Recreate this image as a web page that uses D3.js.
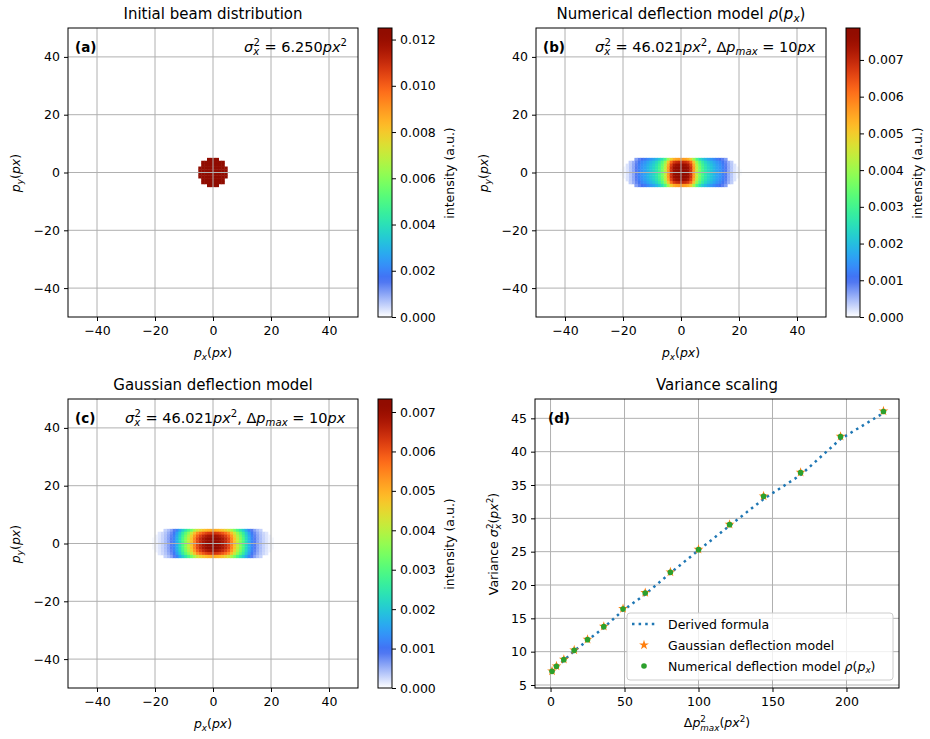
<!DOCTYPE html>
<html>
<head>
<meta charset="utf-8">
<script src="https://cdn.jsdelivr.net/npm/d3@7"></script>
<style>
  body { margin: 0; background: #fff; }
  text { font-family: "DejaVu Sans", sans-serif; fill: #000; white-space: pre; }
</style>
</head>
<body>
<svg id="fig" width="930" height="739"></svg>
<script>
// ---- data ----
// rows of the detector grid, top to bottom (cell centres, px)
var rowY = [4.5, 3.5, 2.5, 1.5, 0.5, -0.5, -1.5, -2.5, -3.5, -4.5];

// (a) initial beam: uniform disk, half width (cells) of every row
var diskHalfWidth = [2, 4, 4, 5, 5, 5, 5, 4, 4, 2];
var diskValue = 0.0125;

// |p_x| of cell centres used by the deflected profiles
var profileX = [0.5, 1.5, 2.5, 3.5, 4.5, 5.5, 6.5, 7.5, 8.5, 9.5, 10.5,
                11.5, 12.5, 13.5, 14.5, 15.5, 16.5, 17.5, 18.5, 19.5, 20.5];

// (b) numerical deflection model, centre-row intensity
var profileB = [0.00780, 0.00772, 0.00749, 0.00686, 0.00562, 0.00437, 0.00359,
                0.00304, 0.00265, 0.00234, 0.00211, 0.00187, 0.00164, 0.00148,
                0.00125, 0.00094, 0.00062, 0.00039, 0.00020, 0.00008, 0.00003];
var rowWeightB = [0.72, 0.9, 0.97, 1, 1, 1, 1, 0.97, 0.9, 0.72];
var rowReachB = [15.5, 17.5, 18.5, 19.5, 20.5, 20.5, 19.5, 18.5, 17.5, 15.5];

// (c) gaussian deflection model, centre-row intensity
var profileC = [0.00720, 0.00713, 0.00698, 0.00677, 0.00648, 0.00612, 0.00547,
                0.00475, 0.00410, 0.00353, 0.00295, 0.00230, 0.00173, 0.00122,
                0.00086, 0.00061, 0.00043, 0.00029, 0.00018, 0.00009, 0.00004];
var rowWeightC = [0.7, 0.88, 0.96, 1, 1, 1, 1, 0.96, 0.88, 0.7];
var rowReachC = [16.5, 18.5, 19.5, 20.5, 20.5, 20.5, 20.5, 19.5, 18.5, 16.5];

// colour bars
var cbarMaxA = 0.0125, cbarTicksA = [0, 0.002, 0.004, 0.006, 0.008, 0.010, 0.012];
var cbarMaxB = 0.00787, cbarTicksB = [0, 0.001, 0.002, 0.003, 0.004, 0.005, 0.006, 0.007];
var cbarMaxC = 0.00733, cbarTicksC = [0, 0.001, 0.002, 0.003, 0.004, 0.005, 0.006, 0.007];

var mapTicks = [-40, -20, 0, 20, 40];

// (d) variance scaling
var dpSq = [1, 4, 9, 16, 25, 36, 49, 64, 81, 100, 121, 144, 169, 196, 225];
var varFormula = [7.0, 7.7, 8.7, 10.1, 11.7, 13.6, 16.2, 18.6, 21.8, 25.2, 28.9, 32.9, 36.5, 41.9, 45.8];
var varGauss = [7.1, 7.85, 8.85, 10.25, 11.85, 13.8, 16.45, 18.85, 21.95, 25.35, 29.1, 33.35, 36.9, 42.3, 46.1];
var varNumeric = [7.05, 7.8, 8.8, 10.2, 11.8, 13.75, 16.4, 18.8, 21.9, 25.3, 29.05, 33.3, 36.85, 42.25, 46.02];
var dTicksX = [0, 50, 100, 150, 200];
var dTicksY = [5, 10, 15, 20, 25, 30, 35, 40, 45];

// ---- helpers ----
var svg = d3.select('#fig');
var FS = 12.5;
var ANN = 14.5;

// white below ~13% then turbo
function cmap(t) {
  t = Math.max(0, Math.min(1, t));
  if (t < 0.13) return d3.interpolateRgb('#ffffff', d3.interpolateTurbo(0.13))(t / 0.13);
  return d3.interpolateTurbo(t);
}

// mathtext-ish: parts = [text, style, dx]; style has i / sub / lsub / sup
function rich(sel, parts, fs) {
  var cur = 0;
  parts.forEach(function(p) {
    var st = p[1] || '', target = 0, size = fs;
    if (st.indexOf('sub') >= 0) { target = (st.indexOf('lsub') >= 0 ? 0.32 : 0.22) * fs; size = fs * 0.7; }
    if (st.indexOf('sup') >= 0) { target = -0.42 * fs; size = fs * 0.7; }
    var t = sel.append('tspan').text(p[0]).attr('font-size', size).attr('dy', target - cur);
    if (st.indexOf('i') >= 0) t.attr('font-style', 'italic');
    if (p[2]) t.attr('dx', p[2] * fs / FS);
    cur = target;
  });
  return sel;
}

function cellsDisk() {
  var out = [];
  rowY.forEach(function(y, i) {
    for (var k = -diskHalfWidth[i]; k < diskHalfWidth[i]; k++)
      out.push({x: k + 0.5, y: y, v: diskValue});
  });
  return out;
}

function cellsSpread(profile, weight, reach) {
  var out = [];
  rowY.forEach(function(y, i) {
    profileX.forEach(function(px, j) {
      if (px > reach[i]) return;
      var v = profile[j] * weight[i];
      out.push({x: px, y: y, v: v});
      out.push({x: -px, y: y, v: v});
    });
  });
  return out;
}

function gridAndFrame(g, x, y, xt, yt) {
  var gr = g.append('g').attr('class', 'grid');
  gr.selectAll('.gx').data(xt).join('line')
    .attr('x1', function(d) { return x(d); }).attr('x2', function(d) { return x(d); })
    .attr('y1', y.range()[0]).attr('y2', y.range()[1]);
  gr.selectAll('.gy').data(yt).join('line')
    .attr('y1', function(d) { return y(d); }).attr('y2', function(d) { return y(d); })
    .attr('x1', x.range()[0]).attr('x2', x.range()[1]);
  gr.selectAll('line').attr('stroke', '#b0b0b0').attr('stroke-width', 1);

  var ax = g.append('g').attr('transform', 'translate(0,' + y.range()[0] + ')')
    .call(d3.axisBottom(x).tickValues(xt).tickSize(4).tickPadding(5).tickSizeOuter(0));
  var ay = g.append('g').attr('transform', 'translate(' + x.range()[0] + ',0)')
    .call(d3.axisLeft(y).tickValues(yt).tickSize(4).tickPadding(4).tickSizeOuter(0));
  [ax, ay].forEach(function(a) {
    a.attr('font-family', null).attr('font-size', null);
    a.select('.domain').remove();
    a.selectAll('text').attr('font-size', FS);
  });
  g.append('rect')
    .attr('x', x.range()[0]).attr('y', y.range()[1])
    .attr('width', x.range()[1] - x.range()[0]).attr('height', y.range()[0] - y.range()[1])
    .attr('fill', 'none').attr('stroke', '#000').attr('stroke-width', 1);
}

var gradN = 0;
function colorbar(g, x0, y0, y1, vmax, ticks) {
  var id = 'cb' + (gradN++);
  var lg = svg.append('defs').append('linearGradient').attr('id', id)
    .attr('x1', 0).attr('y1', 1).attr('x2', 0).attr('y2', 0);
  d3.range(0, 1.0001, 0.02).forEach(function(t) {
    lg.append('stop').attr('offset', t).attr('stop-color', cmap(t));
  });
  g.append('rect').attr('x', x0).attr('y', y0).attr('width', 14).attr('height', y1 - y0)
    .attr('fill', 'url(#' + id + ')').attr('stroke', '#000').attr('stroke-width', 1);
  var s = d3.scaleLinear().domain([0, vmax]).range([y1, y0]);
  var a = g.append('g').attr('transform', 'translate(' + (x0 + 14) + ',0)')
    .call(d3.axisRight(s).tickValues(ticks).tickFormat(d3.format('.3f')).tickSize(4).tickPadding(4).tickSizeOuter(0));
  a.attr('font-family', null).attr('font-size', null);
  a.select('.domain').remove();
  a.selectAll('text').attr('font-size', FS);
}

function heatPanel(o) {
  var g = svg.append('g');
  var x = d3.scaleLinear().domain([-50, 50]).range([o.left, o.left + 290]);
  var y = d3.scaleLinear().domain([-50, 50]).range([o.top + 289, o.top]);
  var cw = x(1) - x(0), ch = y(0) - y(1);
  g.append('g').selectAll('rect').data(o.cells.filter(function(d) { return d.v > 0; })).join('rect')
    .attr('x', function(d) { return x(d.x - 0.5) - 0.2; })
    .attr('y', function(d) { return y(d.y + 0.5) - 0.2; })
    .attr('width', cw + 0.4).attr('height', ch + 0.4)
    .attr('fill', function(d) { return cmap(d.v / o.vmax); });
  gridAndFrame(g, x, y, mapTicks, mapTicks);
  colorbar(g, o.left + 310, o.top, o.top + 289, o.vmax, o.ticks);

  rich(g.append('text').attr('x', o.left + 145).attr('y', o.top - 9).attr('text-anchor', 'middle'), o.title, 15);
  rich(g.append('text').attr('x', o.left + 145).attr('y', o.top + 329).attr('text-anchor', 'middle'),
    [['p', 'i'], ['x', 'isub'], ['(', ''], ['px', 'i'], [')', '']], FS);
  rich(g.append('text').attr('text-anchor', 'middle')
    .attr('transform', 'translate(' + (o.left - 48) + ',' + (o.top + 145) + ') rotate(-90)'),
    [['p', 'i'], ['y', 'isub'], ['(', ''], ['px', 'i'], [')', '']], FS);
  g.append('text').attr('text-anchor', 'middle').attr('font-size', FS)
    .attr('transform', 'translate(' + (o.left + 386) + ',' + (o.top + 145) + ') rotate(-90)')
    .text('intensity (a.u.)');
  g.append('text').attr('x', o.left + 7).attr('y', o.top + 24).attr('font-size', 13.5)
    .attr('font-weight', 'bold').text(o.tag);
  rich(g.append('text').attr('x', o.annX).attr('y', o.top + 24), o.ann, ANN);
}

var annWide = [['σ', 'i'], ['x', 'isub'], ['2', 'sup', -5], [' = 46.021', ''], ['px', 'i'], ['2', 'sup'],
  [', Δ', ''], ['p', 'i'], ['max', 'isub'], [' = 10', ''], ['px', 'i']];

heatPanel({ left: 68, top: 28, cells: cellsDisk(), vmax: cbarMaxA, ticks: cbarTicksA,
  title: [['Initial beam distribution', '']], tag: '(a)', annX: 244,
  ann: [['σ', 'i'], ['x', 'isub'], ['2', 'sup', -5], [' = 6.250', ''], ['px', 'i'], ['2', 'sup']] });

heatPanel({ left: 536, top: 28, cells: cellsSpread(profileB, rowWeightB, rowReachB), vmax: cbarMaxB,
  ticks: cbarTicksB, tag: '(b)', annX: 595, ann: annWide,
  title: [['Numerical deflection model ', ''], ['ρ', 'i'], ['(', ''], ['p', 'i'], ['x', 'isub'], [')', '']] });

heatPanel({ left: 68, top: 399, cells: cellsSpread(profileC, rowWeightC, rowReachC), vmax: cbarMaxC,
  ticks: cbarTicksC, tag: '(c)', annX: 125, ann: annWide,
  title: [['Gaussian deflection model', '']] });

// ---- (d) variance scaling ----
(function() {
  var g = svg.append('g');
  var x = d3.scaleLinear().domain([-10.5, 235.5]).range([535, 899]);
  var y = d3.scaleLinear().domain([4.55, 47.9]).range([688, 399]);
  gridAndFrame(g, x, y, dTicksX, dTicksY);
  g.select('rect').raise();

  var pts = dpSq.map(function(d, i) { return {x: d, f: varFormula[i], g: varGauss[i], n: varNumeric[i]}; });
  g.append('path').datum(pts)
    .attr('d', d3.line().x(function(d) { return x(d.x); }).y(function(d) { return y(d.f); }))
    .attr('fill', 'none').attr('stroke', '#1f77b4').attr('stroke-width', 2.5)
    .attr('stroke-dasharray', '2.5,4.1');
  var star = d3.symbol(d3.symbolStar, 30);
  g.append('g').selectAll('path').data(pts).join('path')
    .attr('d', star)
    .attr('transform', function(d) { return 'translate(' + x(d.x) + ',' + y(d.g) + ')'; })
    .attr('fill', '#ff7f0e');
  g.append('g').selectAll('circle').data(pts).join('circle')
    .attr('cx', function(d) { return x(d.x); }).attr('cy', function(d) { return y(d.n); })
    .attr('r', 2.8).attr('fill', '#2ca02c');

  g.append('text').attr('x', 717).attr('y', 390).attr('text-anchor', 'middle').attr('font-size', 15)
    .text('Variance scaling');
  g.append('text').attr('x', 548).attr('y', 423).attr('font-size', 13.5).attr('font-weight', 'bold').text('(d)');
  rich(g.append('text').attr('x', 717).attr('y', 727).attr('text-anchor', 'middle'),
    [['Δ', ''], ['p', 'i'], ['2', 'sup'], ['max', 'ilsub', -5.6], ['(', ''], ['px', 'i'], ['2', 'sup'], [')', '']], FS);
  rich(g.append('text').attr('text-anchor', 'middle')
    .attr('transform', 'translate(498,544) rotate(-90)'),
    [['Variance ', ''], ['σ', 'i'], ['x', 'isub'], ['2', 'sup', -5], ['(', ''], ['px', 'i'], ['2', 'sup'], [')', '']], FS);

  // legend
  var lg = g.append('g');
  lg.append('rect').attr('x', 627).attr('y', 613).attr('width', 266).attr('height', 67).attr('rx', 3)
    .attr('fill', '#fff').attr('fill-opacity', 0.8).attr('stroke', '#cccccc');
  lg.append('line').attr('x1', 632).attr('x2', 656).attr('y1', 624).attr('y2', 624)
    .attr('stroke', '#1f77b4').attr('stroke-width', 2.5).attr('stroke-dasharray', '2.5,4.1');
  lg.append('path').attr('d', star).attr('transform', 'translate(644,645)').attr('fill', '#ff7f0e');
  lg.append('circle').attr('cx', 644).attr('cy', 666).attr('r', 2.8).attr('fill', '#2ca02c');
  lg.append('text').attr('x', 668).attr('y', 628.5).attr('font-size', FS).text('Derived formula');
  lg.append('text').attr('x', 668).attr('y', 649.5).attr('font-size', FS).text('Gaussian deflection model');
  rich(lg.append('text').attr('x', 668).attr('y', 670.5),
    [['Numerical deflection model ', ''], ['ρ', 'i'], ['(', ''], ['p', 'i'], ['x', 'isub'], [')', '']], FS);
})();
</script>
</body>
</html>
